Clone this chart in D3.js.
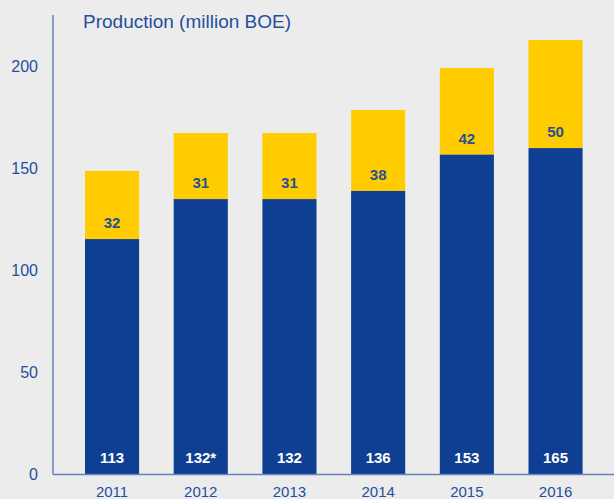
<!DOCTYPE html>
<html>
<head>
<meta charset="utf-8">
<script src="https://cdn.jsdelivr.net/npm/d3@7"></script>
<style>
  body { margin: 0; background: #ececec; }
  svg { display: block; font-family: "Liberation Sans", Arial, sans-serif; }
</style>
</head>
<body>
<svg width="614" height="499"></svg>
<script>
// years on the x axis
var years = ['2011', '2012', '2013', '2014', '2015', '2016'];
// bar heights (million BOE)
var baseValues = [115.4, 135, 135, 139, 156.8, 160];
var topValues = [33.4, 32.4, 32.4, 39.7, 42.5, 53];
// printed labels
var baseLabels = ['113', '132*', '132', '136', '153', '165'];
var topLabels = ['32', '31', '31', '38', '42', '50'];
var yTicks = [0, 50, 100, 150, 200];

var svg = d3.select('svg');
var svgWidth = +svg.attr('width');

var blue = '#0f3f92';
var yellow = '#ffcc00';
var textBlue = '#244f9c';

var x = d3.scaleBand()
    .domain(years)
    .range([50.4, 617.2])
    .padding(0.39);

var y = d3.scaleLinear()
    .domain([0, 200])
    .range([474.5, 66.5]);

svg.append('rect')
    .attr('width', svgWidth)
    .attr('height', 499)
    .attr('fill', '#ececec');

// y tick labels
var yAxis = d3.axisLeft(y).tickValues(yTicks).tickSize(0).tickPadding(0);
var yG = svg.append('g')
    .attr('transform', 'translate(38,0)')
    .call(yAxis);
yG.select('.domain').remove();
yG.selectAll('text')
    .attr('fill', textBlue)
    .style('font-size', '16px')
    .style('font-family', '"Liberation Sans", Arial, sans-serif');

// bars
var bars = svg.selectAll('.bar')
    .data(years)
    .enter()
    .append('g')
    .attr('class', 'bar');

bars.append('rect')
    .attr('x', function(d) { return x(d); })
    .attr('width', x.bandwidth())
    .attr('y', function(d, i) { return y(baseValues[i] + topValues[i]); })
    .attr('height', function(d, i) { return y(baseValues[i]) - y(baseValues[i] + topValues[i]); })
    .attr('fill', yellow);

bars.append('rect')
    .attr('x', function(d) { return x(d); })
    .attr('width', x.bandwidth())
    .attr('y', function(d, i) { return y(baseValues[i]); })
    .attr('height', function(d, i) { return y(0) - y(baseValues[i]); })
    .attr('fill', blue);

bars.append('text')
    .attr('x', function(d) { return x(d) + x.bandwidth() / 2; })
    .attr('y', y(0) - 17)
    .attr('dy', '0.35em')
    .attr('text-anchor', 'middle')
    .attr('fill', '#fff')
    .style('font-size', '15px')
    .style('font-weight', 'bold')
    .text(function(d, i) { return baseLabels[i]; });

bars.append('text')
    .attr('x', function(d) { return x(d) + x.bandwidth() / 2; })
    .attr('y', function(d, i) { return y(baseValues[i]) - 16; })
    .attr('dy', '0.35em')
    .attr('text-anchor', 'middle')
    .attr('fill', '#2a4f93')
    .style('font-size', '15px')
    .style('font-weight', 'bold')
    .text(function(d, i) { return topLabels[i]; });

// axis lines
svg.append('line')
    .attr('x1', 53).attr('x2', 53)
    .attr('y1', 15).attr('y2', y(0))
    .attr('stroke', '#6483bd')
    .attr('stroke-width', 1.5);

svg.append('line')
    .attr('x1', 53).attr('x2', svgWidth)
    .attr('y1', y(0)).attr('y2', y(0))
    .attr('stroke', '#6483bd')
    .attr('stroke-width', 1.5);

// year labels
var xAxis = d3.axisBottom(x).tickSize(0).tickPadding(0);
var xG = svg.append('g')
    .attr('transform', 'translate(0,' + 486 + ')')
    .call(xAxis);
xG.select('.domain').remove();
xG.selectAll('text')
    .attr('fill', textBlue)
    .style('font-size', '15px')
    .style('font-family', '"Liberation Sans", Arial, sans-serif');

// title
svg.append('text')
    .attr('x', 83)
    .attr('y', 28)
    .attr('fill', textBlue)
    .style('font-size', '19px')
    .text('Production (million BOE)');
</script>
</body>
</html>
